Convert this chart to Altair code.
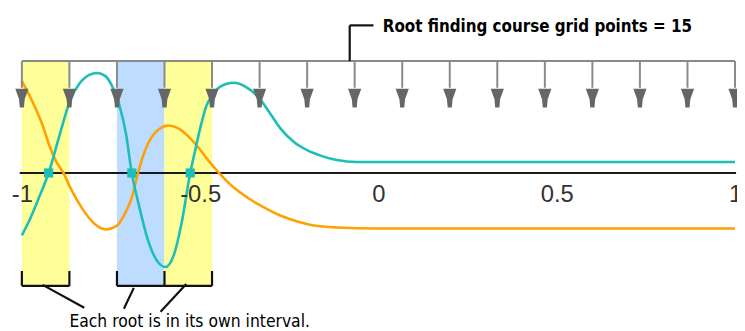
import altair as alt
import pandas as pd

# ---------------- data ----------------
grid_x = [-1.0, -0.8667, -0.7333, -0.6, -0.4667, -0.3333, -0.2, -0.0667,
          0.0667, 0.2, 0.3333, 0.4667, 0.6, 0.7333, 0.8667, 1.0]

teal_x = [-1.0, -0.9778, -0.95, -0.925, -0.8944, -0.8639, -0.8389, -0.8111,
          -0.7889, -0.7667, -0.7472, -0.7278, -0.7083, -0.6917, -0.6722,
          -0.6444, -0.6222, -0.5972, -0.575, -0.5528, -0.5278, -0.5139,
          -0.4972, -0.4833, -0.4667, -0.4444, -0.4056, -0.3722, -0.3333,
          -0.3056, -0.275, -0.2361, -0.2, -0.1583, -0.1167, -0.0611, 0.5, 1.0]
teal_y = [-0.63, -0.47, -0.23, 0.0, 0.38, 0.74, 0.90, 0.99,
          1.01, 0.98, 0.88, 0.70, 0.40, 0.0, -0.32,
          -0.70, -0.88, -0.95, -0.84, -0.52, 0.0, 0.23,
          0.49, 0.67, 0.78, 0.87, 0.91, 0.87, 0.75,
          0.61, 0.45, 0.31, 0.23, 0.17, 0.13, 0.11, 0.11, 0.11]

orange_x = [-1.0, -0.9639, -0.9417, -0.9222, -0.9028, -0.8833, -0.8667,
            -0.8306, -0.7972, -0.7639, -0.7361, -0.7139, -0.6917, -0.6778,
            -0.6639, -0.6444, -0.6167, -0.5889, -0.5611, -0.5333, -0.5056,
            -0.4778, -0.4472, -0.4083, -0.3667, -0.325, -0.275, -0.2278,
            -0.1806, -0.1167, -0.0056, 0.5, 1.0]
orange_y = [0.93, 0.67, 0.48, 0.27, 0.11, 0.0, -0.13,
            -0.36, -0.51, -0.57, -0.54, -0.43, -0.25, -0.05,
            0.13, 0.31, 0.44, 0.48, 0.45, 0.37, 0.26,
            0.13, 0.0, -0.14, -0.25, -0.34, -0.43, -0.49,
            -0.53, -0.55, -0.56, -0.56, -0.56]

root_x = [-0.925, -0.6917, -0.5278]

interval_start = [-1.0, -0.7333, -0.6]
interval_end = [-0.8667, -0.6, -0.4667]
interval_color = ["#FFFF99", "#BDDCFF", "#FFFF99"]

x_ticks = [-1, -0.5, 0, 0.5, 1]

top_label = "Root finding course grid points = 15"
bottom_label = "Each root is in its own interval."

TEAL = "#1BBFB7"
ORANGE = "#FFA100"
FONT = "DejaVu Sans Condensed, DejaVu Sans, sans-serif"

# ---------------- scales ----------------
xs = alt.Scale(domain=[-1.03889, 1.00556], nice=False, zero=False)
ys = alt.Scale(domain=[-1.58, 1.65], nice=False, zero=False)
x_axis = alt.Axis(values=x_ticks, labelExpr="toString(datum.value)",
                  domain=False, ticks=False, tickSize=0, grid=False,
                  labelFontSize=24, labelColor="#333333",
                  labelFont="Liberation Sans", labelPadding=10,
                  labelFlush=False, labelOverlap=False, offset=-158,
                  title=None, zindex=2)


def X(f):
    return alt.X(f, type="quantitative", scale=xs, axis=x_axis)


def Y(f):
    return alt.Y(f, type="quantitative", scale=ys, axis=None)


# shaded intervals
iv = pd.DataFrame({"x0": interval_start, "x1": interval_end,
                   "c": interval_color, "ytop": 1.13, "ybot": -1.14})
shade = alt.Chart(iv).mark_rect().encode(
    x=X("x0"), x2="x1", y=Y("ytop"), y2="ybot",
    color=alt.Color("c:N", scale=None))

# zero line
zero = alt.Chart(pd.DataFrame({"a": [-1.006], "b": [1.003], "y": [0.0]})).mark_rule(
    color="#1a1a1a", strokeWidth=2).encode(x=X("a"), x2="b", y=Y("y"))

# curves
orange_line = alt.Chart(pd.DataFrame({"x": orange_x, "y": orange_y})).mark_line(
    color=ORANGE, strokeWidth=2.6, interpolate="monotone").encode(
    x=X("x"), y=Y("y"), order="x:Q")
teal_line = alt.Chart(pd.DataFrame({"x": teal_x, "y": teal_y})).mark_line(
    color=TEAL, strokeWidth=2.6, interpolate="monotone").encode(
    x=X("x"), y=Y("y"), order="x:Q")

# roots
roots = alt.Chart(pd.DataFrame({"x": root_x, "y": 0.0})).mark_square(
    color=TEAL, size=85, opacity=1).encode(x=X("x"), y=Y("y"))

# grid arrows
gray_top = alt.Chart(pd.DataFrame({"a": [-1.0], "b": [1.0], "y": [1.13]})).mark_rule(
    color="#8a8a8a", strokeWidth=2).encode(x=X("a"), x2="b", y=Y("y"))
stems = alt.Chart(pd.DataFrame({"x": grid_x, "y0": 1.13, "y1": 0.86})).mark_rule(
    color="#8a8a8a", strokeWidth=2).encode(x=X("x"), y=Y("y0"), y2="y1")
head_path = "M-0.7,-1 L0.7,-1 L0.3,0.1 L0.22,1 L-0.22,1 L-0.3,0.1 Z"
heads = alt.Chart(pd.DataFrame({"x": grid_x, "y": 0.755})).mark_point(
    shape=head_path, filled=True, color="#666666", size=361, opacity=1,
    strokeWidth=0).encode(x=X("x"), y=Y("y"))

# black annotation segments
seg = pd.DataFrame({
    "x": [-1.0, -0.8667, -0.7333, -0.6, -0.4667,
          -1.0, -0.7333,
          -0.9417, -0.6861, -0.5389,
          -0.0806, -0.0806],
    "x2": [-1.0, -0.8667, -0.7333, -0.6, -0.4667,
           -0.8667, -0.4667,
           -0.825, -0.7139, -0.6111,
           -0.0806, -0.0139],
    "y": [-0.99, -0.99, -0.99, -0.99, -0.99,
          -1.14, -1.14,
          -1.13, -1.16, -1.12,
          1.13, 1.49],
    "y2": [-1.14, -1.14, -1.14, -1.14, -1.14,
           -1.14, -1.14,
           -1.36, -1.37, -1.40,
           1.49, 1.49],
})
segs = alt.Chart(seg).mark_rule(color="#111111", strokeWidth=2.2).encode(
    x=X("x"), x2="x2", y=Y("y"), y2="y2")

# texts
top_txt = alt.Chart(pd.DataFrame({"x": [0.012], "y": [1.42], "t": [top_label]})).mark_text(
    align="left", baseline="alphabetic", fontSize=17, fontWeight="bold",
    font=FONT, color="#000000").encode(x=X("x"), y=Y("y"), text="t:N")
bot_txt = alt.Chart(pd.DataFrame({"x": [-0.8667], "y": [-1.56], "t": [bottom_label]})).mark_text(
    align="left", baseline="alphabetic", fontSize=17.5,
    font=FONT, color="#000000").encode(x=X("x"), y=Y("y"), text="t:N")

chart = alt.layer(
    shade, zero, orange_line, teal_line, gray_top, stems, heads, roots,
    segs, top_txt, bot_txt
).properties(
    width=736, height=323,
    autosize=alt.AutoSizeParams(type="none"),
    padding=0,
).configure_view(strokeWidth=0)

chart.save("out.html", embed_options={"renderer": "svg", "actions": False})
